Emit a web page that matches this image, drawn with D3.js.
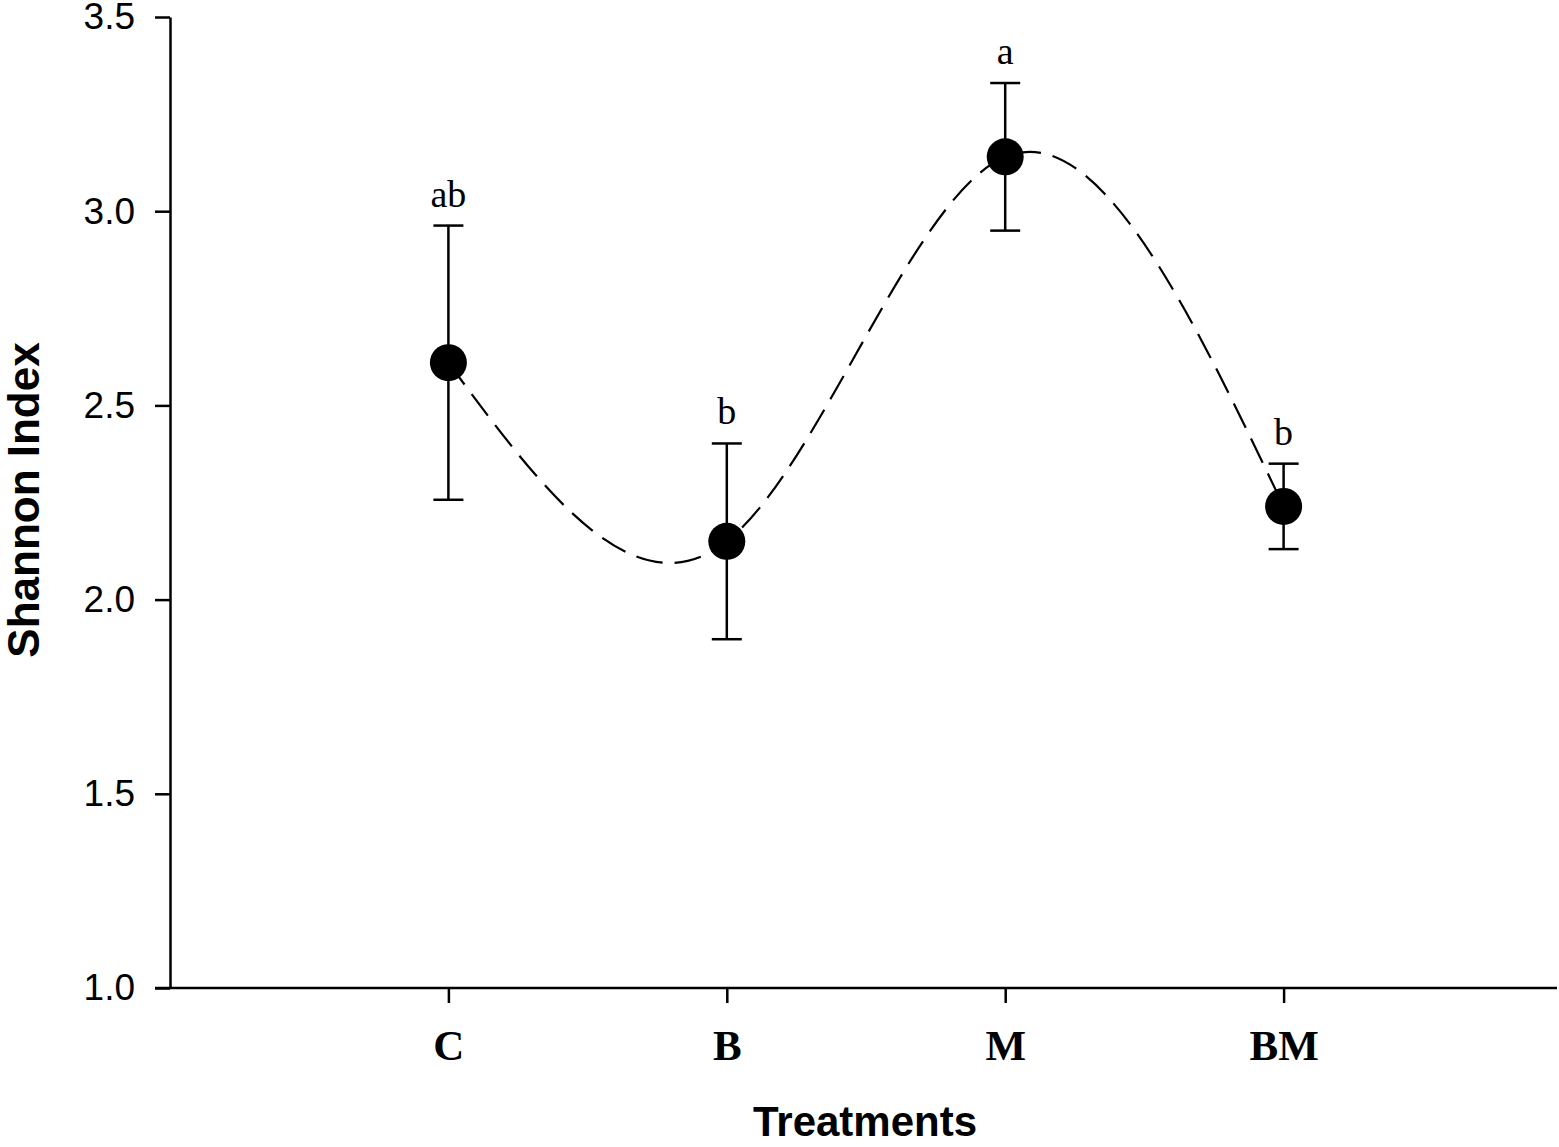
<!DOCTYPE html>
<html>
<head>
<meta charset="utf-8">
<script src="https://cdn.jsdelivr.net/npm/d3@7"></script>
<style>
  body { margin: 0; background: #fff; }
  svg { display: block; }
</style>
</head>
<body>
<svg id="chart" width="1559" height="1147"></svg>
<script>
const width = 1559;
const height = 1147;

const treatments = ["C", "B", "M", "BM"];
const shannon = [2.61, 2.15, 3.14, 2.24];
const errors = [0.353, 0.252, 0.19, 0.11];
const letters = ["ab", "b", "a", "b"];
const yTicks = [1.0, 1.5, 2.0, 2.5, 3.0, 3.5];

const svg = d3.select("#chart");

// positions 1..4 along a 0..5 axis
const x = d3.scaleLinear()
  .domain([0, 5])
  .range([170, 1562]);

const y = d3.scaleLinear()
  .domain([1, 3.5])
  .range([988, 17]);

const data = treatments.map((t, i) => ({ t, i: i + 1, v: shannon[i], e: errors[i], l: letters[i] }));

// y axis
svg.append("g")
  .attr("transform", "translate(170,0)")
  .call(d3.axisLeft(y).tickValues(yTicks).tickFormat(d3.format(".1f")).tickSize(15).tickPadding(20).tickSizeOuter(0))
  .call(g => g.selectAll("path, line").attr("stroke", "#000").attr("stroke-width", 2.5))
  .call(g => g.selectAll("text")
    .attr("font-family", "'Liberation Sans', Arial, sans-serif")
    .attr("font-size", 37)
    .attr("fill", "#000"));

// x axis
svg.append("g")
  .attr("transform", "translate(0,988)")
  .call(d3.axisBottom(x).tickValues(data.map(d => d.i)).tickFormat((d, i) => treatments[i]).tickSize(15).tickPadding(26).tickSizeOuter(0))
  .call(g => g.select(".domain").attr("d", `M155,0H${width - 2}`))
  .call(g => g.selectAll("path, line").attr("stroke", "#000").attr("stroke-width", 2.5))
  .call(g => g.selectAll("text")
    .attr("font-family", "'Liberation Serif', 'Times New Roman', serif")
    .attr("font-weight", "bold")
    .attr("font-size", 43)
    .attr("fill", "#000"));

// dashed fitted curve
const line = d3.line()
  .x(d => x(d.i))
  .y(d => y(d.v))
  .curve(d3.curveNatural);

svg.append("path")
  .datum(data)
  .attr("d", line)
  .attr("fill", "none")
  .attr("stroke", "#000")
  .attr("stroke-width", 2.2)
  .attr("stroke-dasharray", "27,12");

// error bars
const bars = svg.append("g")
  .attr("stroke", "#000")
  .attr("stroke-width", 2.5);

bars.selectAll(".stem")
  .data(data)
  .join("line")
  .attr("x1", d => x(d.i))
  .attr("x2", d => x(d.i))
  .attr("y1", d => y(d.v + d.e))
  .attr("y2", d => y(d.v - d.e));

bars.selectAll(".capTop")
  .data(data)
  .join("line")
  .attr("x1", d => x(d.i) - 15)
  .attr("x2", d => x(d.i) + 15)
  .attr("y1", d => y(d.v + d.e))
  .attr("y2", d => y(d.v + d.e));

bars.selectAll(".capBottom")
  .data(data)
  .join("line")
  .attr("x1", d => x(d.i) - 15)
  .attr("x2", d => x(d.i) + 15)
  .attr("y1", d => y(d.v - d.e))
  .attr("y2", d => y(d.v - d.e));

// points
svg.append("g")
  .selectAll("circle")
  .data(data)
  .join("circle")
  .attr("cx", d => x(d.i))
  .attr("cy", d => y(d.v))
  .attr("r", 18.5)
  .attr("fill", "#000");

// significance letters
svg.append("g")
  .selectAll("text")
  .data(data)
  .join("text")
  .attr("x", d => x(d.i))
  .attr("y", d => y(d.v + d.e) - 19)
  .attr("text-anchor", "middle")
  .attr("font-family", "'Liberation Serif', 'Times New Roman', serif")
  .attr("font-size", 38)
  .attr("fill", "#000")
  .text(d => d.l);

// axis titles
svg.append("text")
  .attr("x", 865)
  .attr("y", 1136)
  .attr("text-anchor", "middle")
  .attr("font-family", "'Liberation Sans', Arial, sans-serif")
  .attr("font-weight", "bold")
  .attr("font-size", 42)
  .attr("fill", "#000")
  .text("Treatments");

svg.append("text")
  .attr("transform", "translate(39,500) rotate(-90)")
  .attr("text-anchor", "middle")
  .attr("font-family", "'Liberation Sans', Arial, sans-serif")
  .attr("font-weight", "bold")
  .attr("font-size", 44)
  .attr("fill", "#000")
  .text("Shannon Index");
</script>
</body>
</html>
